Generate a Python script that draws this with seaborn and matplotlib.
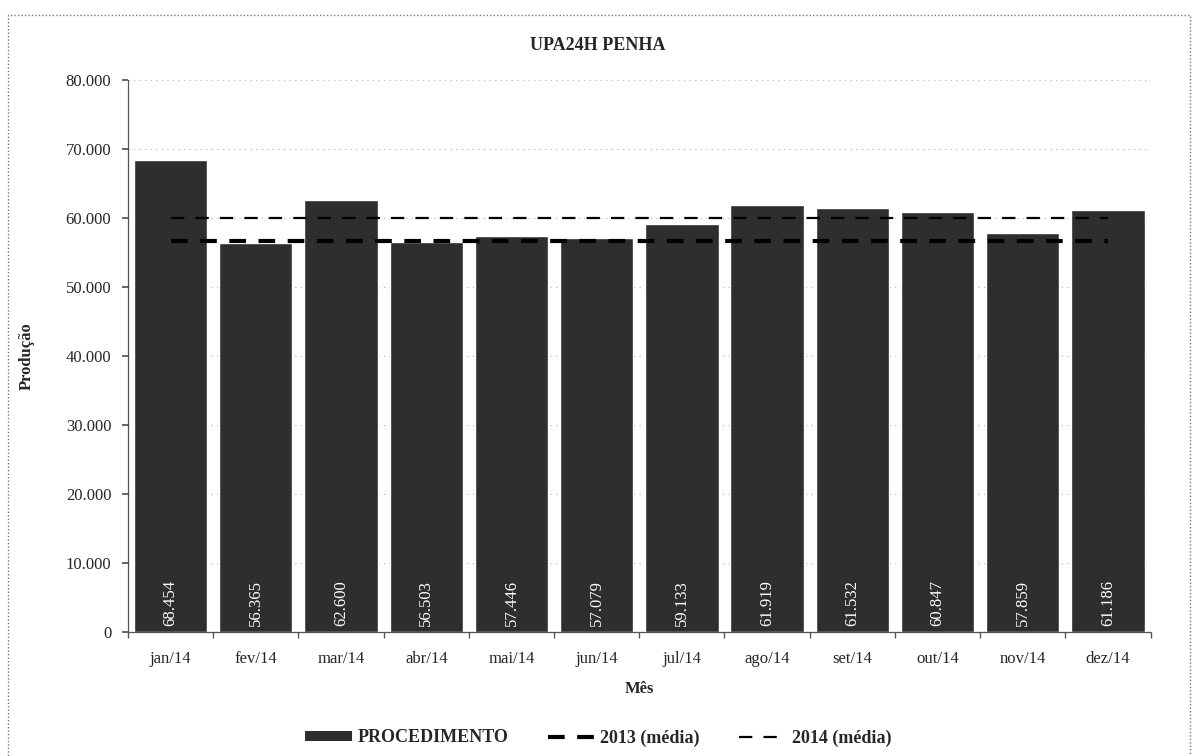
import numpy as np
import pandas as pd
import matplotlib
matplotlib.use("Agg")
import matplotlib.pyplot as plt
import seaborn as sns
from matplotlib.patches import Rectangle, Patch
from matplotlib.lines import Line2D
from matplotlib.ticker import FuncFormatter, MultipleLocator

# --- dados ---
meses = ["jan/14", "fev/14", "mar/14", "abr/14", "mai/14", "jun/14",
         "jul/14", "ago/14", "set/14", "out/14", "nov/14", "dez/14"]
procedimento = [68454, 56365, 62600, 56503, 57446, 57079,
                59133, 61919, 61532, 60847, 57859, 61186]
media_2013 = 56700
media_2014 = 60077

df = pd.DataFrame({"Mês": meses, "Produção": procedimento})

sns.set_theme(style="white")
plt.rcParams["font.family"] = ["Liberation Serif", "DejaVu Serif"]

fig = plt.figure(figsize=(11.96, 7.56), dpi=100)
ax = fig.add_axes([0.107, 0.164, 0.855, 0.730])

sns.barplot(data=df, x="Mês", y="Produção", color="#2e2e2e", saturation=1,
            width=0.86, errorbar=None, ax=ax, zorder=2)

pos = np.arange(len(meses))
dash_2013 = (0, (4, 3))
dash_2014 = (0, (6, 5))
sns.lineplot(x=pos, y=[media_2013] * len(meses), ax=ax, color="black",
             linewidth=3, linestyle=dash_2013, zorder=3)
sns.lineplot(x=pos, y=[media_2014] * len(meses), ax=ax, color="black",
             linewidth=1.6, linestyle=dash_2014, zorder=3)

# rotulos dentro das barras
for i, v in enumerate(procedimento):
    ax.text(i, 900, f"{v:,}".replace(",", "."), rotation=90, color="white",
            ha="center", va="bottom", fontsize=12, zorder=4)

ax.set_ylim(0, 80000)
ax.set_xlim(-0.5, len(meses) - 0.5)
ax.yaxis.set_major_locator(MultipleLocator(10000))
ax.yaxis.set_major_formatter(FuncFormatter(lambda v, p: f"{int(v):,}".replace(",", ".")))
ax.grid(axis="y", color="#b0b0b0", linestyle=(0, (1, 4)), linewidth=0.8, zorder=0)

ax.set_xticks(pos)
ax.set_xticklabels(meses)
ax.set_xticks(np.arange(-0.5, len(meses), 1), minor=True)
ax.tick_params(axis="x", which="major", length=0, labelsize=12, pad=14)
ax.tick_params(axis="x", which="minor", length=4, direction="out", color="#555555")
ax.tick_params(axis="y", length=4, direction="out", labelsize=12, color="#555555", pad=8)
ax.tick_params(axis="both", which="both", bottom=True, left=True)

for s in ["top", "right"]:
    ax.spines[s].set_visible(False)
for s in ["left", "bottom"]:
    ax.spines[s].set_color("#555555")
    ax.spines[s].set_linestyle((0, (2, 1)))
    ax.spines[s].set_linewidth(0.9)

ax.set_xlabel("Mês", fontsize=12, fontweight="bold", labelpad=10)
ax.set_ylabel("Produção", fontsize=12, fontweight="bold", labelpad=22)
fig.text(0.5, 0.94, "UPA24H PENHA", ha="center", va="center",
         fontsize=13, fontweight="bold")

handles = [
    Patch(facecolor="#2e2e2e", edgecolor="none"),
    Line2D([0], [0], color="black", linewidth=3, linestyle=dash_2013),
    Line2D([0], [0], color="black", linewidth=1.6, linestyle=dash_2014),
]
fig.legend(handles, ["PROCEDIMENTO", "2013 (média)", "2014 (média)"],
           loc="center", bbox_to_anchor=(0.5, 0.024), ncol=3, frameon=False,
           prop={"weight": "bold", "size": 13}, handlelength=2.6,
           handleheight=0.5, columnspacing=2.2, handletextpad=0.3)

# moldura pontilhada do grafico
fig.patches.append(Rectangle((0.007, -0.05), 0.988, 1.03, transform=fig.transFigure,
                             fill=False, edgecolor="#777777", linewidth=1,
                             linestyle=(0, (1, 1.5))))

fig.savefig("out.png", dpi=100, facecolor="white")
